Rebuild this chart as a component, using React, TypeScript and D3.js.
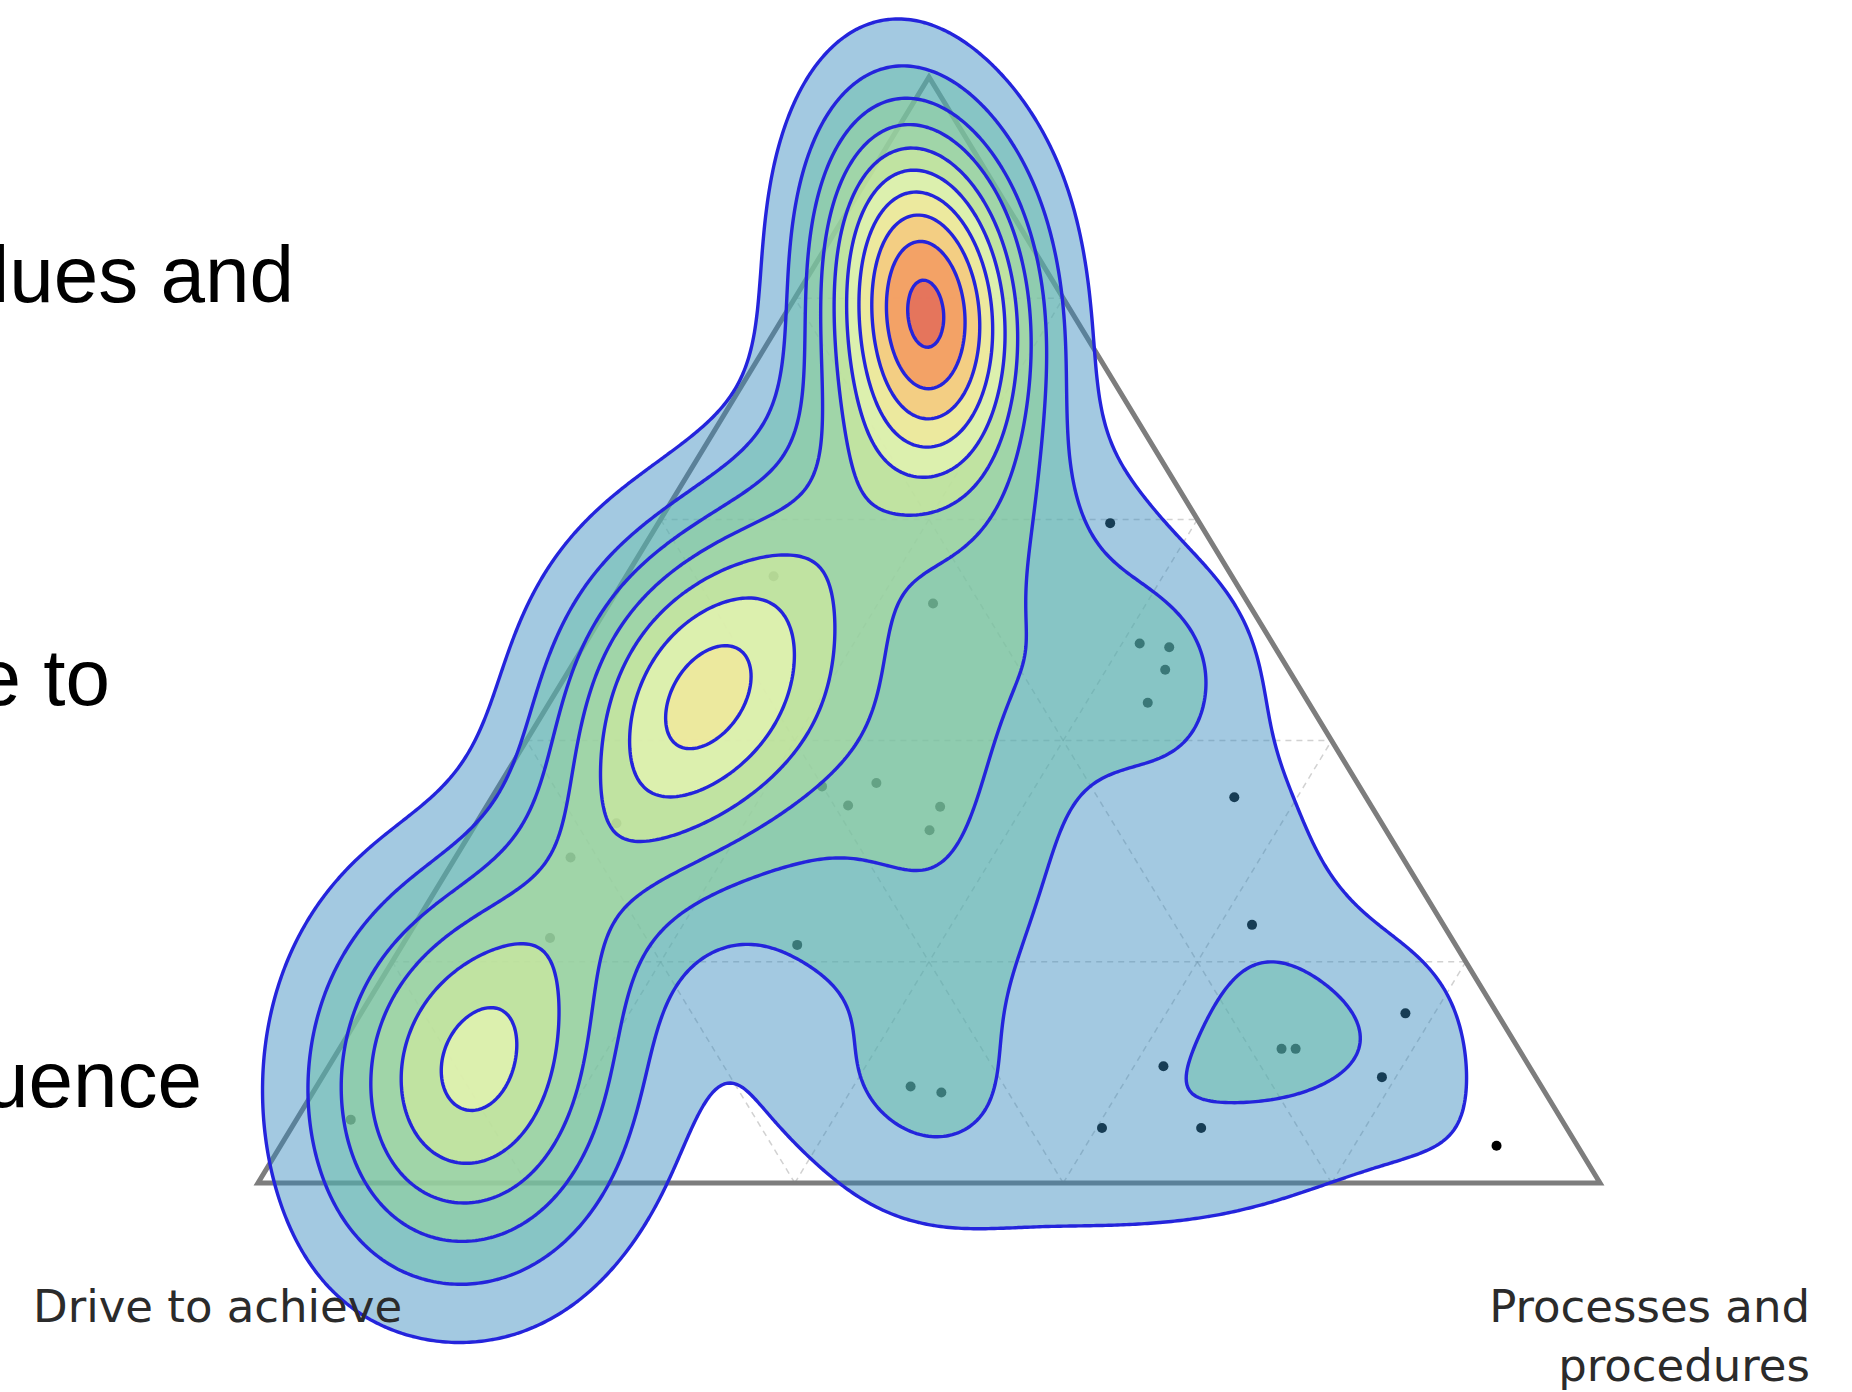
import React, { useMemo } from "react";
import * as d3 from "d3";

const WIDTH = 1852;
const HEIGHT = 1392;

// corner labels of the ternary plot
const leftCornerLabel = ["Drive to achieve"];
const rightCornerLabel = ["Processes and", "procedures"];
// slide text clipped at the left border
const sideTextLines = ["lues and", "e to", "uence"];

// ternary grid (share steps)
const gridSteps = [0.2, 0.4, 0.6, 0.8];
// density levels drawn as filled contours
const contourLevels = [1, 2, 3, 4, 5, 6, 7, 8, 9, 10];

// density lobes in ternary-cartesian data space: [x, y, spreadU, spreadV, angleDeg, weight]
const densityLobes: [number, number, number, number, number, number][] = [
  [0.497, 0.8, 0.0546, 0.12, 6, 9.2],
  [0.158, 0.0925, 0.0836, 0.128, 0, 5.2],
  [0.3155, 0.4451, 0.0748, 0.1068, 0, 3.25],
  [0.327, 0.4289, 0.245, 0.064, 63.8, 3.5],
  [0.4899, 0.3862, 0.0968, 0.1709, 0, 3.0],
  [0.5735, 0.5304, 0.0528, 0.0961, 0, 0.6],
  [0.5382, -0.009, 0.1056, 0.0641, 0, 0.75],
  [0.7407, 0.2366, 0.132, 0.139, 0, 0.65],
  [0.7583, 0.1491, 0.0396, 0.0534, 0, 0.4],
  [0.4151, 0.0873, 0.0528, 0.0534, 0, 0.45],
  [0.525, 0.1833, 0.0484, 0.0908, 0, 0.55],
  [0.7759, -0.009, 0.0968, 0.0427, 0, 0.45],
];

// responses in the sparse part (each adds a kernel)
const sparseResponses: [number, number][] = [
  [0.635, 0.5966], [0.657, 0.4878], [0.679, 0.4844], [0.676, 0.4641], [0.663, 0.4342],
  [0.7275, 0.3488], [0.7407, 0.2334], [0.7627, 0.1213], [0.7732, 0.1213], [0.855, 0.1534],
  [0.8375, 0.0957], [0.6747, 0.1055], [0.6289, 0.0497], [0.7028, 0.0497], [0.9229, 0.0337],
  [0.4018, 0.2153], [0.4863, 0.0873], [0.5092, 0.0818],
];
// responses inside the dense lobes (drawn only)
const denseResponses: [number, number][] = [
  [0.3842, 0.5486], [0.503, 0.524], [0.4608, 0.3616], [0.4397, 0.3413], [0.5083, 0.3402],
  [0.5004, 0.3189], [0.4203, 0.3586], [0.2329, 0.2943], [0.2671, 0.3253], [0.0691, 0.0573],
  [0.2176, 0.2215],
];
const responseSpread: [number, number] = [0.0528, 0.0641];
const responseWeight = 0.5;

const layerColors = ["#3288bd", "#66c2a5", "#99d594", "#b5e0a0", "#e6f598", "#ffffbf", "#fee08b", "#fdae61", "#f46d43", "#d53e4f"];

export default function App() {
  const x = d3.scaleLinear().domain([0, 1]).range([258, 1600]);
  const y = d3.scaleLinear().domain([0, 1]).range([1183, 77]);

  const { contours, step } = useMemo(() => {
    const step = 3;
    const nx = Math.ceil(WIDTH / step);
    const ny = Math.ceil(HEIGHT / step);
    const values = new Float64Array(nx * ny);
    const lobes = densityLobes.map(([cx, cy, su, sv, ang, w]) => {
      const a = (ang * Math.PI) / 180;
      return { cx, cy, su, sv, c: Math.cos(a), s: Math.sin(a), w };
    });
    sparseResponses.forEach(([px, py]) =>
      lobes.push({ cx: px, cy: py, su: responseSpread[0], sv: responseSpread[1], c: 1, s: 0, w: responseWeight })
    );
    for (let j = 0; j < ny; j++) {
      const yd = y.invert((j + 0.5) * step);
      for (let i = 0; i < nx; i++) {
        const xd = x.invert((i + 0.5) * step);
        let v = 0;
        for (const L of lobes) {
          const dx = xd - L.cx, dy = yd - L.cy;
          const u = dx * L.c + dy * L.s;
          const w = -dx * L.s + dy * L.c;
          v += L.w * Math.exp(-((u * u) / (2 * L.su * L.su) + (w * w) / (2 * L.sv * L.sv)));
        }
        values[j * nx + i] = v;
      }
    }
    const contours = d3.contours().size([nx, ny]).thresholds(contourLevels)(Array.from(values));
    return { contours, step };
  }, []);

  const path = d3.geoPath(
    d3.geoTransform({
      point(px: number, py: number) {
        (this as any).stream.point(px * step, py * step);
      },
    })
  );

  const P = (xd: number, yd: number): [number, number] => [x(xd), y(yd)];
  const gridLines: [number, number][][] = [];
  gridSteps.forEach((t) => {
    gridLines.push([P(t / 2, t), P(1 - t / 2, t)]);
    gridLines.push([P(t, 0), P(t + (1 - t) / 2, 1 - t)]);
    gridLines.push([P(1 - t, 0), P((1 - t) / 2, 1 - t)]);
  });
  const tri = [P(0, 0), P(1, 0), P(0.5, 1)];
  const line = d3.line();

  return (
    <svg width={WIDTH} height={HEIGHT} style={{ position: "absolute", left: 0, top: 0, background: "#fff" }}>
      <rect width={WIDTH} height={HEIGHT} fill="#fff" />
      {sideTextLines.map((t, i) => (
        <text key={t} x={[294, 110, 202][i]} y={[302, 705, 1107][i]} textAnchor="end"
          fontFamily="'Liberation Sans', Arial, sans-serif" fontSize={80} fill="#000">{t}</text>
      ))}
      {gridLines.map((g, i) => (
        <path key={i} d={line(g) || ""} stroke="#9a9a9a" strokeWidth={1.5} strokeDasharray="6,5" fill="none" opacity={0.45} />
      ))}
      <path d={(line(tri) || "") + "Z"} fill="none" stroke="#7d7d7d" strokeWidth={5} strokeLinejoin="miter" />
      {[...sparseResponses, ...denseResponses].map(([a, b], i) => (
        <circle key={i} cx={x(a)} cy={y(b)} r={5} fill="#000" />
      ))}
      {contours.map((c, k) => (
        <path key={"f" + k} d={path(c as any) || ""} fill={layerColors[k]} fillOpacity={0.45} stroke="none" />
      ))}
      {contours.map((c, k) => (
        <path key={"l" + k} d={path(c as any) || ""} fill="none" stroke="#2424dc" strokeWidth={3.4} />
      ))}
      <text x={33} y={1322} fontFamily="'DejaVu Sans', sans-serif" fontSize={45} fill="#2b2b2b">{leftCornerLabel[0]}</text>
      {rightCornerLabel.map((t, i) => (
        <text key={t} x={1810} y={[1322, 1381][i]} textAnchor="end" fontFamily="'DejaVu Sans', sans-serif" fontSize={45} fill="#2b2b2b">{t}</text>
      ))}
    </svg>
  );
}
